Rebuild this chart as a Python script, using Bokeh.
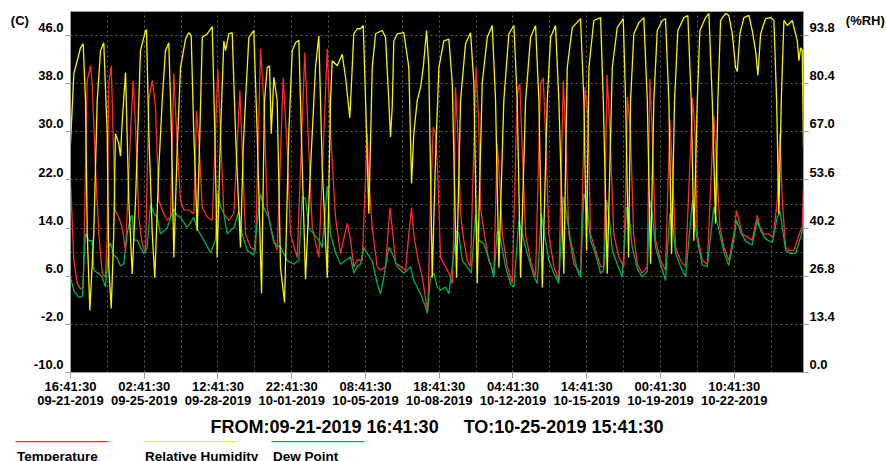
from bokeh.plotting import figure
from bokeh.models import Range1d, LinearAxis, FixedTicker, Label
from bokeh.embed import file_html
from bokeh.resources import INLINE

# ---------------- data (hours since 09-21-2019 16:41:30) ----------------
total_hours = 815

temp_hours = [
    0.0, 3.7, 7.5, 11.1, 14.1, 16.7, 18.6, 22.2, 24.1, 27.8, 31.5, 35.3, 38.9, 40.8, 42.6, 45.3,
    47.3, 49.5, 53.7, 57.5, 61.2, 66.7, 69.7, 72.3, 75.9, 79.7, 83.4, 87.1, 90.9, 94.5, 98.2,
    103.7, 107.5, 111.2, 114.9, 118.6, 122.3, 126.0, 131.5, 137.1, 140.1, 142.7, 146.5, 152.0,
    157.6, 163.8, 166.8, 170.5, 176.0, 181.6, 188.3, 190.9, 194.6, 200.2, 205.7, 211.3, 214.9,
    218.7, 222.4, 226.1, 229.8, 236.5, 241.0, 244.6, 252.1, 260.5, 265.0, 268.8, 276.1, 285.5,
    289.1, 294.7, 300.2, 307.7, 311.4, 315.0, 318.8, 324.4, 329.9, 331.7, 335.5, 341.0, 344.7,
    350.3, 355.1, 357.7, 361.4, 367.0, 372.5, 376.2, 379.2, 381.7, 385.9, 391.1, 395.9, 397.3,
    400.3, 403.3, 405.9, 408.4, 411.4, 417.0, 420.7, 424.5, 426.0, 428.1, 430.7, 433.7, 437.3,
    441.1, 444.8, 450.9, 453.7, 455.9, 459.6, 465.1, 470.7, 474.5, 477.0, 480.1, 485.6, 491.2,
    496.7, 499.6, 502.3, 506.0, 511.5, 517.1, 522.6, 525.6, 528.2, 531.9, 537.4, 543.0, 547.9,
    550.4, 554.1, 559.7, 567.1, 572.1, 575.5, 578.2, 583.8, 589.4, 593.0, 596.6, 599.4, 604.1,
    609.7, 615.3, 619.4, 622.7, 626.1, 630.2, 635.7, 641.3, 644.2, 646.9, 650.5, 656.1, 661.6,
    666.4, 669.1, 672.8, 678.3, 683.9, 691.7, 694.4, 696.9, 702.4, 708.0, 715.3, 718.4, 722.0,
    726.5, 732.0, 737.6, 740.6, 743.2, 746.9, 752.5, 758.0, 763.6, 766.5, 770.9, 776.5, 781.4,
    785.8, 788.7, 791.4, 795.1, 798.8, 804.3, 808.1, 811.8, 813.6, 815.0]
temp_c = [
    21.9, 8.6, 4.8, 3.9, 4.1, 24.0, 38.5, 41.0, 38.0, 24.0, 13.0, 6.5, 5.8, 13.0, 38.0, 41.0,
    30.0, 17.0, 15.8, 14.1, 10.2, 29.7, 38.5, 30.8, 15.8, 11.4, 9.8, 35.3, 38.5, 34.1, 18.6,
    16.4, 15.3, 15.8, 39.7, 28.0, 18.6, 17.0, 17.0, 16.4, 33.5, 28.6, 17.5, 15.8,
    15.3, 40.5, 29.7, 16.4, 15.3, 16.4, 36.9, 27.0, 13.0, 10.8, 10.3, 43.8, 35.2,
    17.6, 14.2, 12.0, 10.3, 39.0, 27.0, 13.0, 9.1, 43.2, 27.0, 14.2, 9.1, 43.8,
    29.7, 15.8, 9.8, 14.8, 12.0, 7.6, 8.7, 8.6, 29.7, 21.9, 14.1, 7.6, 7.0,
    7.6, 17.4, 14.1, 8.2, 7.6, 7.0, 13.0, 17.4, 13.0, 9.1, 5.9, 1.3, 0.2,
    18.6, 30.8, 29.7, 23.0, 9.1, 7.6, 6.5, 4.8, 12.0, 37.4, 29.7, 16.4, 12.0,
    8.6, 7.6, 40.7, 32.3, 17.4, 13.6, 8.6, 6.5, 28.0, 22.2, 13.0, 7.6, 4.8,
    36.3, 38.0, 27.0, 13.0, 8.6, 5.9, 38.0, 39.0, 29.7, 13.0, 7.6, 5.3, 38.5,
    29.7, 13.0, 8.0, 6.5, 37.4, 32.3, 13.0, 10.3, 7.6, 7.6, 39.5, 31.0, 13.0,
    9.1, 7.6, 35.8, 29.7, 13.0, 8.0, 6.5, 7.6, 38.8, 29.7, 12.0, 8.6, 7.0,
    32.0, 24.3, 10.8, 8.6, 7.6, 35.6, 29.7, 13.0, 8.6, 8.0, 32.7, 24.3, 14.2,
    10.8, 8.6, 13.0, 16.9, 15.3, 13.0, 12.5, 12.0, 16.1, 14.2, 13.0, 13.0, 12.5,
    18.6, 29.7, 18.6, 10.8, 10.3, 10.3, 12.0, 13.6, 14.2, 20.8]

rh_hours = [
    0.0, 3.7, 7.5, 11.1, 14.1, 16.7, 18.6, 21.5, 25.9, 29.7, 33.4, 37.0, 40.8, 42.6, 45.3,
    48.1, 50.0, 53.7, 55.6, 57.5, 61.2, 64.8, 68.6, 72.3, 74.8, 77.8, 83.4, 84.5, 87.1, 90.9,
    93.7, 98.2, 102.0, 105.6, 109.3, 112.3, 114.9, 118.6, 122.3, 127.9, 131.5, 134.2, 137.1,
    140.9, 143.8, 146.5, 152.0, 157.6, 160.5, 163.1, 166.8, 170.5, 172.4, 176.0, 179.8, 183.5,
    189.0, 192.0, 194.6, 198.3, 203.8, 207.6, 212.4, 215.7, 218.7, 221.3, 223.2, 226.1, 229.8,
    233.5, 238.0, 242.7, 246.5, 250.2, 253.9, 257.7, 261.3, 266.9, 272.4, 276.1, 279.9, 285.5,
    289.1, 291.0, 296.6, 302.1, 305.8, 310.6, 315.0, 318.8, 322.5, 325.5, 329.2, 331.7, 335.5,
    339.2, 346.6, 350.3, 353.9, 355.8, 357.7, 359.5, 363.3, 370.6, 376.2, 379.2, 381.7, 385.5,
    389.2, 392.2, 395.9, 398.4, 402.2, 405.9, 409.6, 415.1, 420.7, 424.5, 429.2, 433.7, 439.2,
    444.8, 448.5, 452.2, 457.8, 463.4, 468.9, 472.6, 476.3, 481.8, 487.4, 493.0, 496.7, 500.4,
    506.0, 511.5, 517.1, 520.8, 524.6, 530.1, 533.8, 539.3, 543.0, 548.5, 552.3, 557.9, 567.1,
    570.8, 573.8, 576.4, 581.9, 589.4, 592.4, 596.8, 602.4, 607.9, 614.6, 617.2, 620.5, 622.7,
    626.4, 632.0, 637.5, 641.3, 645.0, 648.6, 652.4, 658.0, 661.6, 665.3, 668.3, 671.6, 675.3,
    682.0, 686.4, 690.2, 693.1, 696.9, 699.8, 706.1, 709.8, 713.6, 717.2, 719.8, 722.8, 728.4,
    732.0, 735.8, 739.5, 741.4, 744.3, 748.7, 754.3, 758.0, 761.7, 764.3, 767.3, 772.8, 778.4,
    782.1, 785.1, 787.6, 790.3, 793.2, 797.0, 802.5, 808.1, 809.9, 811.8, 813.6, 815.0]
rh_pct = [
    63.7, 83.2, 86.8, 90.4, 91.5, 75.7, 38.7, 17.3, 38.7, 75.7, 89.6, 91.8, 66.5, 29.2, 17.8,
    38.7, 66.5, 63.7, 60.2, 70.0, 83.5, 47.9, 27.4, 47.9, 66.5, 89.6, 95.2, 95.4, 66.5, 38.7,
    26.4, 57.0, 75.7, 89.6, 91.8, 66.5, 32.0, 62.0, 84.9, 92.8, 94.6, 93.7, 66.5,
    39.5, 66.5, 93.3, 94.3, 96.3, 66.5, 32.0, 66.5, 92.3, 89.6, 94.3, 94.6, 66.5,
    34.8, 62.0, 75.7, 93.3, 95.2, 66.5, 22.0, 75.7, 84.9, 85.4, 66.5, 82.2, 75.7,
    29.2, 19.5, 66.5, 89.6, 91.8, 92.5, 57.0, 26.0, 57.0, 84.9, 93.7, 57.0, 26.4,
    75.7, 86.8, 85.4, 88.6, 82.2, 70.9, 94.3, 95.7, 95.7, 96.6, 66.5, 44.2, 84.9,
    94.3, 95.2, 93.3, 75.7, 65.6, 73.8, 92.3, 94.3, 94.6, 84.9, 52.6, 66.5, 75.7,
    79.4, 84.9, 95.2, 84.9, 26.4, 60.0, 84.9, 92.3, 92.8, 80.6, 26.4, 75.7, 91.5,
    94.6, 80.6, 24.8, 80.6, 93.3, 96.6, 75.7, 29.2, 75.7, 94.3, 96.6, 75.7, 26.4,
    75.7, 93.3, 96.6, 75.7, 23.7, 75.7, 93.3, 96.6, 75.7, 27.5, 84.9, 96.0, 98.5,
    75.7, 34.0, 84.9, 98.0, 98.8, 75.7, 27.5, 84.9, 96.0, 98.5, 75.7, 32.0, 75.7,
    94.3, 97.4, 98.8, 75.7, 30.3, 75.7, 95.2, 98.0, 98.5, 75.7, 33.0, 75.7, 95.2,
    98.8, 99.4, 75.7, 36.7, 75.7, 95.2, 98.8, 100.0, 75.7, 41.5, 75.7, 98.0, 100.0,
    99.4, 94.3, 84.9, 83.8, 94.3, 98.8, 99.4, 95.2, 89.6, 82.7, 94.3, 98.5, 98.8,
    98.0, 75.7, 44.2, 75.7, 98.0, 96.6, 98.0, 92.3, 86.8, 90.4, 89.6, 62.6]

dew_hours = [
    0.0, 3.7, 9.2, 13.0, 16.7, 20.4, 24.1, 25.9, 29.7, 35.3, 38.9, 42.6, 44.5, 48.1, 51.9,
    55.6, 59.3, 63.1, 66.7, 68.6, 70.4, 74.2, 77.8, 81.5, 85.3, 89.0, 92.6, 96.4, 100.1,
    107.5, 111.2, 114.9, 118.6, 122.3, 129.8, 137.1, 140.9, 148.2, 155.7, 161.2, 163.1, 166.8,
    170.5, 174.3, 181.6, 187.2, 190.9, 196.5, 203.8, 209.4, 211.3, 214.9, 220.5, 226.1, 233.5,
    241.0, 248.3, 253.9, 257.7, 261.3, 265.0, 270.6, 276.1, 279.9, 285.5, 289.1, 294.7, 300.2,
    305.8, 311.4, 315.0, 318.8, 322.5, 326.2, 329.9, 335.5, 341.0, 344.7, 348.4, 353.9, 357.7,
    363.3, 370.6, 378.1, 381.7, 389.2, 394.8, 396.7, 400.3, 404.0, 407.8, 411.4, 417.0, 420.7,
    426.2, 429.2, 431.8, 435.5, 441.1, 445.6, 450.4, 454.0, 459.6, 467.0, 470.7, 474.5, 478.2,
    483.7, 489.3, 493.0, 498.5, 502.3, 507.8, 515.2, 519.0, 523.4, 526.3, 531.9, 537.4, 543.0,
    547.9, 551.6, 556.0, 563.4, 567.1, 570.8, 574.6, 578.2, 583.8, 589.4, 593.0, 596.0, 598.6,
    602.4, 607.9, 613.5, 618.3, 620.8, 624.6, 630.2, 635.7, 641.3, 644.2, 646.9, 650.5, 656.1,
    661.6, 666.4, 669.1, 672.8, 678.3, 683.9, 691.5, 693.1, 696.9, 702.4, 708.0, 715.3, 718.4,
    722.0, 726.5, 732.0, 737.6, 740.6, 745.0, 750.6, 758.0, 763.6, 767.3, 772.8, 780.3, 785.8,
    788.7, 791.4, 795.1, 800.6, 806.2, 811.8, 815.0]
dew_c = [
    5.8, 3.6, 2.5, 2.6, 13.1, 11.9, 11.9, 7.0, 6.6, 5.9, 4.2, 10.9, 11.5, 9.5, 9.0,
    7.7, 8.1, 13.1, 15.8, 16.1, 12.0, 12.0, 10.8, 9.8, 10.8, 18.0, 16.5, 15.8, 13.0,
    14.0, 15.7, 17.2, 16.1, 15.8, 14.1, 15.8, 13.9, 12.0, 9.9, 12.0, 19.8, 17.6,
    16.4, 13.0, 14.1, 16.8, 13.0, 10.3, 9.5, 17.4, 19.7, 17.4, 15.8, 11.5, 10.8,
    8.6, 8.0, 8.6, 19.3, 18.8, 14.0, 13.0, 12.0, 10.8, 21.0, 13.0, 9.9, 8.0,
    8.6, 9.2, 6.5, 7.6, 8.0, 10.8, 9.8, 8.6, 4.8, 3.1, 5.9, 10.8, 9.8,
    7.6, 6.5, 7.6, 5.3, 3.1, 0.9, -0.2, 5.9, 6.5, 4.2, 3.7, 4.2, 3.1,
    9.8, 13.6, 13.0, 8.6, 7.6, 6.5, 16.4, 12.0, 11.4, 8.0, 5.8, 13.6, 12.0,
    7.6, 4.7, 4.2, 15.3, 13.0, 9.8, 6.0, 4.8, 16.4, 13.6, 8.6, 6.5, 4.8,
    19.2, 16.4, 12.0, 7.0, 5.8, 19.8, 17.5, 12.0, 9.6, 6.5, 7.0, 18.6, 16.4,
    10.3, 8.0, 5.9, 17.5, 16.4, 10.8, 7.3, 5.9, 6.8, 18.6, 16.4, 10.8, 8.0,
    5.3, 16.4, 15.3, 9.8, 7.6, 5.9, 18.6, 16.4, 12.0, 7.9, 7.6, 17.5, 15.3,
    13.0, 10.0, 7.8, 12.2, 15.3, 13.4, 11.8, 11.2, 15.3, 13.6, 12.2, 11.6, 15.8,
    16.8, 14.2, 10.3, 9.8, 9.8, 12.5, 14.2]

# axes / labels
tick_hours = [0, 82, 164, 246, 328, 410, 492, 574, 656, 738]
tick_labels = ["16:41:30\n09-21-2019", "02:41:30\n09-25-2019", "12:41:30\n09-28-2019",
               "22:41:30\n10-01-2019", "08:41:30\n10-05-2019", "18:41:30\n10-08-2019",
               "04:41:30\n10-12-2019", "14:41:30\n10-15-2019", "00:41:30\n10-19-2019",
               "10:41:30\n10-22-2019"]
temp_ticks = [-10, -2, 6, 14, 22, 30, 38, 46]
rh_ticks = [0.0, 13.4, 26.8, 40.2, 53.6, 67.0, 80.4, 93.8]
alarm_lines_c = [10, 18]
temp_unit = "(C)"
rh_unit = "(%RH)"
title_text = "FROM:09-21-2019 16:41:30\u00a0\u00a0\u00a0\u00a0\u00a0TO:10-25-2019 15:41:30"
legend_names = ["Temperature", "Relative Humidity", "Dew Point"]

# ---------------- styles ----------------
FONT = "Liberation Sans"
RED = "#ff2b2b"
YELLOW = "#f4f400"
GREEN = "#00b04f"
GRID = "#5e5e5e"
AXIS = "#a0a0a0"

p = figure(frame_width=733, frame_height=361,
           x_range=Range1d(0, total_hours), y_range=Range1d(-10, 50),
           output_backend="svg", toolbar_location=None,
           min_border_left=70, min_border_right=83, min_border_top=11, min_border_bottom=66,
           background_fill_color="black", border_fill_color="white",
           outline_line_color=AXIS)
p.extra_y_ranges = {"rh": Range1d(0, 100.5)}

xa = p.xaxis[0]
xa.ticker = FixedTicker(ticks=tick_hours)
xa.major_label_overrides = {h: s for h, s in zip(tick_hours, tick_labels)}
xa.major_tick_out = 6
xa.major_label_standoff = 0
xa.major_label_text_line_height = 0.95
xa.axis_label = title_text
xa.axis_label_standoff = 6
xa.axis_label_text_font = FONT
xa.axis_label_text_font_style = "bold"
xa.axis_label_text_font_size = "18px"
xa.axis_label_text_color = "black"

ya = p.yaxis[0]
ya.ticker = FixedTicker(ticks=temp_ticks)
ya.major_label_overrides = {v: "%.1f\n " % v for v in temp_ticks}
ya.major_label_standoff = 2
ya.axis_label = "\u00a0\n" + temp_unit
ya.axis_label_standoff = 2

ra = LinearAxis(y_range_name="rh", ticker=FixedTicker(ticks=rh_ticks))
ra.major_label_overrides = {v: "%.1f\n " % v for v in rh_ticks}
ra.major_label_standoff = 1
ra.axis_label = "\u00a0\n" + rh_unit
ra.axis_label_standoff = 8
p.add_layout(ra, "right")

for ax in (xa, ya, ra):
    ax.major_label_text_font = FONT
    ax.major_label_text_font_style = "bold"
    ax.major_label_text_font_size = "13px"
    ax.major_label_text_color = "black"
    ax.axis_line_color = AXIS
    ax.major_tick_line_color = AXIS
    ax.minor_tick_line_color = None
    ax.major_tick_in = 0
for ax in (ya, ra):
    ax.major_tick_out = 5
    ax.major_label_text_line_height = 1.05
    ax.axis_label_orientation = "horizontal"
    ax.axis_label_align = "end"
    ax.axis_label_text_font = FONT
    ax.axis_label_text_font_style = "bold"
    ax.axis_label_text_font_size = "13px"
    ax.axis_label_text_color = "black"

p.xgrid.ticker = FixedTicker(ticks=list(range(41, total_hours, 41)))
p.ygrid.ticker = FixedTicker(ticks=sorted(temp_ticks[1:] + alarm_lines_c))
p.grid.grid_line_color = GRID
p.grid.grid_line_dash = "2 3"
p.grid.grid_line_width = 1

p.line(temp_hours, temp_c, line_color=RED, line_width=1.3)
p.line(dew_hours, dew_c, line_color=GREEN, line_width=1.3)
p.line(rh_hours, rh_pct, line_color=YELLOW, line_width=1.3, y_range_name="rh")

# ---------------- legend strip (separate root below the chart) ----------------
# coordinates of this strip are plain pixels (x from the left, y from the strip bottom)
legend_colors = [RED, YELLOW, GREEN]
legend_x = [15, 143, 271]
legend_len = 93

lg = figure(frame_width=886, frame_height=24, x_range=Range1d(0, 886), y_range=Range1d(0, 24),
            x_axis_type=None, y_axis_type=None, output_backend="svg", toolbar_location=None,
            min_border=0, outline_line_color=None, background_fill_color="white",
            border_fill_color="white")
lg.title = None
lg.grid.visible = False
lg.segment(x0=legend_x, y0=[21.8] * 3, x1=[x + legend_len for x in legend_x], y1=[21.8] * 3,
           line_color=legend_colors, line_width=1.2)
for x, name in zip(legend_x, legend_names):
    lg.add_layout(Label(x=x + 1.5, y=7.5, text=name, text_baseline="middle",
                        text_font=FONT, text_font_style="bold", text_font_size="13.5px",
                        text_color="black"))

open("out.html", "w").write(file_html([p, lg], INLINE))
